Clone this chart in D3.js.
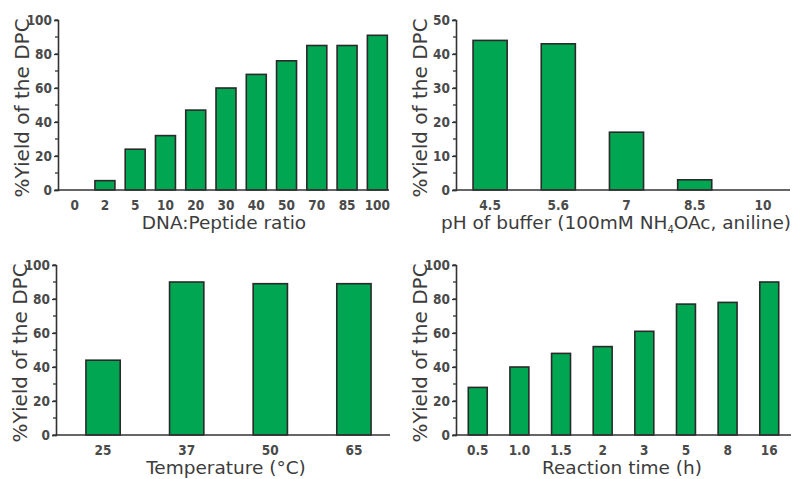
<!DOCTYPE html>
<html>
<head>
<meta charset="utf-8">
<script src="https://cdn.jsdelivr.net/npm/d3@7"></script>
<style>
  body { margin: 0; background: #fff; }
  svg { display: block; }
</style>
</head>
<body>
<div id="chart"></div>
<script>
// data
const ratioLabels = ["0", "2", "5", "10", "20", "30", "40", "50", "70", "85", "100"];
const ratioYield = [0, 5.5, 24, 32, 47, 60, 68, 76, 85, 85, 91];

const phLabels = ["4.5", "5.6", "7", "8.5", "10"];
const phYield = [44, 43, 17, 3, 0];

const tempLabels = ["25", "37", "50", "65"];
const tempYield = [44, 90, 89, 89];

const timeLabels = ["0.5", "1.0", "1.5", "2", "3", "5", "8", "16"];
const timeYield = [28, 40, 48, 52, 61, 77, 78, 90];

const yTicks100 = [0, 20, 40, 60, 80, 100];
const yTicks50 = [0, 10, 20, 30, 40, 50];

const width = 794, height = 479,
    barColor = "#00a651",
    inkColor = "#333",
    textColor = "#3c3c3c",
    titleFont = "'DejaVu Sans', sans-serif",
    tickFont = "'DejaVu Sans Condensed', 'DejaVu Sans', sans-serif";

const svg = d3.select("#chart").append("svg")
    .attr("width", width)
    .attr("height", height);

// one panel = one small bar chart
function drawPanel(p) {
    const g = svg.append("g");

    // pair each label with its value, drop empty bars
    const rows = p.labels.map((l, i) => ({ label: l, value: p.values[i] }))
        .filter(d => d.value > 0);

    const x = d3.scaleBand()
        .domain(p.labels)
        .range([p.x0, p.x1])
        .paddingInner(p.pi)
        .paddingOuter(p.po);

    const y = d3.scaleLinear()
        .domain([0, p.yMax])
        .range([p.yZero, p.yTop]);

    // bars
    g.selectAll("rect.bar")
        .data(rows)
        .enter().append("rect")
        .attr("class", "bar")
        .attr("x", d => x(d.label))
        .attr("y", d => y(d.value))
        .attr("width", x.bandwidth())
        .attr("height", d => y(0) - y(d.value))
        .style("fill", barColor)
        .style("stroke", "#2a2a2a")
        .style("stroke-width", 1.6);

    // minor ticks on y
    const minor = d3.range(0, p.yMax + 0.01, p.yMax / 10);
    g.selectAll("line.minor")
        .data(minor)
        .enter().append("line")
        .attr("x1", p.x0 - 3)
        .attr("x2", p.x0)
        .attr("y1", d => y(d))
        .attr("y2", d => y(d))
        .style("stroke", inkColor)
        .style("stroke-width", 1.3);

    // y axis
    const yAxis = g.append("g")
        .attr("transform", "translate(" + p.x0 + ",0)")
        .call(d3.axisLeft(y).tickValues(p.yTicks).tickSize(4).tickPadding(2).tickFormat(d3.format("d")));
    yAxis.select(".domain").style("stroke", inkColor).style("stroke-width", 1.6);
    yAxis.selectAll(".tick line").style("stroke", inkColor).style("stroke-width", 1.3);
    yAxis.selectAll(".tick text")
        .style("font-family", tickFont)
        .style("font-weight", "bold")
        .style("font-size", "13.5px")
        .style("fill", "#4a4a4a");

    // x axis line (no ticks)
    g.append("line")
        .attr("x1", p.x0)
        .attr("x2", p.axisEnd)
        .attr("y1", y(0))
        .attr("y2", y(0))
        .style("stroke", inkColor)
        .style("stroke-width", 1.6);

    // x tick labels
    g.selectAll("text.xlab")
        .data(p.labels)
        .enter().append("text")
        .attr("class", "xlab")
        .attr("x", d => x(d) + x.bandwidth() / 2)
        .attr("y", y(0) + 20)
        .attr("text-anchor", "middle")
        .style("font-family", tickFont)
        .style("font-weight", "bold")
        .style("font-size", "13.5px")
        .style("fill", "#4a4a4a")
        .text(d => d);

    // y title
    g.append("text")
        .attr("transform", "translate(" + (p.x0 - 29) + "," + ((p.yZero + p.yTop) / 2 + 3) + ") rotate(-90)")
        .attr("text-anchor", "middle")
        .style("font-family", titleFont)
        .style("font-size", "20px")
        .style("fill", textColor)
        .text("%Yield of the DPC");

    // x title
    const xt = g.append("text")
        .attr("x", p.titleX)
        .attr("y", y(0) + 39)
        .attr("text-anchor", "middle")
        .style("font-family", titleFont)
        .style("font-size", "18.5px")
        .style("fill", textColor);
    p.title.forEach(part => {
        const t = xt.append("tspan").text(part.text);
        if (part.sub) {
            t.attr("dy", 4).style("font-size", "10px");
        } else if (part.after) {
            t.attr("dy", -4);
        }
    });
}

drawPanel({
    labels: ratioLabels, values: ratioYield, yMax: 100, yTicks: yTicks100,
    x0: 58, x1: 394, pi: 0.34, po: 0.22, axisEnd: 389, yZero: 190, yTop: 20,
    titleX: 224, title: [{ text: "DNA:Peptide ratio" }]
});

drawPanel({
    labels: phLabels, values: phYield, yMax: 50, yTicks: yTicks50,
    x0: 456, x1: 797, pi: 0.5, po: 0.25, axisEnd: 790, yZero: 190, yTop: 20,
    titleX: 616, title: [{ text: "pH of buffer (100mM NH" }, { text: "4", sub: true }, { text: "OAc, aniline)", after: true }]
});

drawPanel({
    labels: tempLabels, values: tempYield, yMax: 100, yTicks: yTicks100,
    x0: 56, x1: 401, pi: 0.59, po: 0.358, axisEnd: 390, yZero: 435, yTop: 265,
    titleX: 226, title: [{ text: "Temperature (°C)" }]
});

drawPanel({
    labels: timeLabels, values: timeYield, yMax: 100, yTicks: yTicks100,
    x0: 456, x1: 791, pi: 0.545, po: 0.295, axisEnd: 791, yZero: 435, yTop: 265,
    titleX: 622, title: [{ text: "Reaction time (h)" }]
});
</script>
</body>
</html>
